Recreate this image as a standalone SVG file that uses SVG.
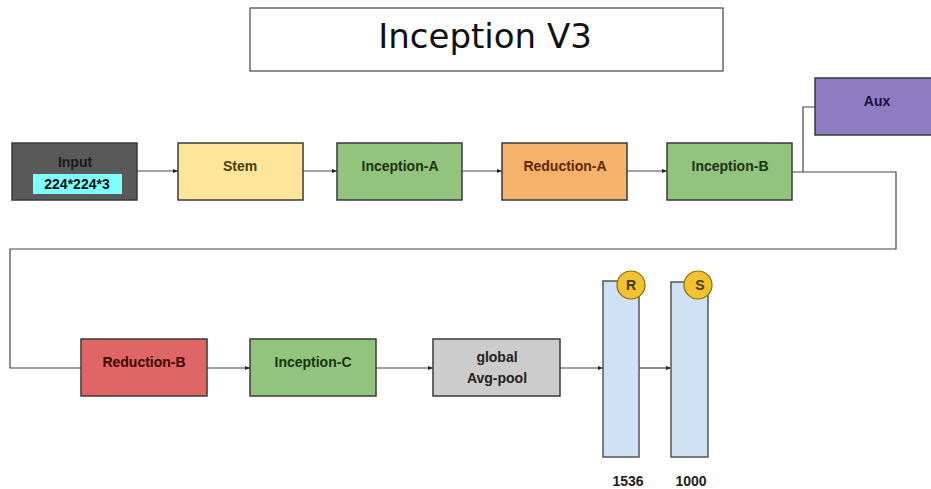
<svg xmlns="http://www.w3.org/2000/svg" width="931" height="489" viewBox="0 0 931 489">
<style>
.box{stroke:#3a3a3a;stroke-width:1.5}
.lbl{font-family:"Liberation Sans",Arial,sans-serif;font-weight:bold;font-size:14px;text-anchor:middle}
.num{font-family:"Liberation Sans",Arial,sans-serif;font-weight:bold;font-size:14px;text-anchor:middle;fill:#222}
.conn{fill:none;stroke:#444;stroke-width:1.2}
.bar{fill:#CFE2F3;stroke:#555;stroke-width:1.5}
.badge{fill:#F1C232;stroke:#8a6d00;stroke-width:1.2}
</style>
<defs>
<marker id="arr" viewBox="0 0 10 10" refX="10" refY="5" markerWidth="5" markerHeight="5" orient="auto" markerUnits="userSpaceOnUse">
<path d="M0,1 L10,5 L0,9 z" fill="#222"/>
</marker>
</defs>
<rect width="931" height="489" fill="#ffffff"/>
<g id="title">
<rect x="250" y="8" width="473" height="63" fill="#fff" stroke="#444" stroke-width="1.2"/>
<text x="485" y="48" font-family="DejaVu Sans,sans-serif" font-size="34" text-anchor="middle" fill="#111">Inception V3</text>
</g>
<g id="connectors">
<line class="conn" x1="137" y1="171" x2="178" y2="171" marker-end="url(#arr)"/>
<line class="conn" x1="303" y1="171" x2="337" y2="171" marker-end="url(#arr)"/>
<line class="conn" x1="462" y1="171" x2="502" y2="171" marker-end="url(#arr)"/>
<line class="conn" x1="627" y1="171" x2="667" y2="171" marker-end="url(#arr)"/>
<polyline class="conn" points="792,172 896,172 896,249 10,249 10,368 81,368"/>
<polyline class="conn" points="803,172 803,107 815,107"/>
<line class="conn" x1="207" y1="368" x2="250" y2="368" marker-end="url(#arr)"/>
<line class="conn" x1="376" y1="368" x2="433" y2="368" marker-end="url(#arr)"/>
<line class="conn" x1="560" y1="368" x2="603" y2="368" marker-end="url(#arr)"/>
<line class="conn" x1="639" y1="368" x2="671" y2="368" marker-end="url(#arr)"/>
</g>
<g id="input">
<rect class="box" x="12" y="143" width="125" height="57" fill="#595959"/>
<text class="lbl" x="75" y="167" fill="#1a1a1a">Input</text>
<rect x="33" y="174" width="89" height="20" fill="#80FFFF"/>
<text class="lbl" x="77" y="189" fill="#111">224*224*3</text>
</g>
<g id="stem">
<rect class="box" x="178" y="143" width="125" height="57" fill="#FFE599"/>
<text class="lbl" x="240" y="171" fill="#4a3c0c">Stem</text>
</g>
<g id="inception-a">
<rect class="box" x="337" y="143" width="125" height="57" fill="#93C47D"/>
<text class="lbl" x="400" y="171" fill="#1a3310">Inception-A</text>
</g>
<g id="reduction-a">
<rect class="box" x="502" y="143" width="125" height="57" fill="#F6B26B"/>
<text class="lbl" x="565" y="171" fill="#5a2800">Reduction-A</text>
</g>
<g id="inception-b">
<rect class="box" x="667" y="143" width="125" height="57" fill="#93C47D"/>
<text class="lbl" x="730" y="171" fill="#1a3310">Inception-B</text>
</g>
<g id="aux">
<rect class="box" x="815" y="78" width="118" height="57" fill="#8E7CC3"/>
<text class="lbl" x="877" y="106" fill="#1a0f40">Aux</text>
</g>
<g id="reduction-b">
<rect class="box" x="81" y="339" width="126" height="57" fill="#E06666"/>
<text class="lbl" x="144" y="367" fill="#400000">Reduction-B</text>
</g>
<g id="inception-c">
<rect class="box" x="250" y="339" width="126" height="57" fill="#93C47D"/>
<text class="lbl" x="313" y="367" fill="#1a3310">Inception-C</text>
</g>
<g id="avg-pool">
<rect class="box" x="433" y="339" width="127" height="57" fill="#CCCCCC"/>
<text class="lbl" x="497" y="362" fill="#222">global</text>
<text class="lbl" x="497" y="383" fill="#222">Avg-pool</text>
</g>
<g id="fc-1536">
<rect class="bar" x="603" y="281" width="36" height="176"/>
<circle class="badge" cx="631" cy="285" r="14"/>
<text class="lbl" x="631" y="290" fill="#4a3a00" font-size="12">R</text>
<text class="num" x="628" y="486">1536</text>
</g>
<g id="fc-1000">
<rect class="bar" x="671" y="282" width="37" height="175"/>
<circle class="badge" cx="698" cy="285" r="14"/>
<text class="lbl" x="700" y="290" fill="#4a3a00" font-size="12">S</text>
<text class="num" x="691" y="486">1000</text>
</g>
</svg>
